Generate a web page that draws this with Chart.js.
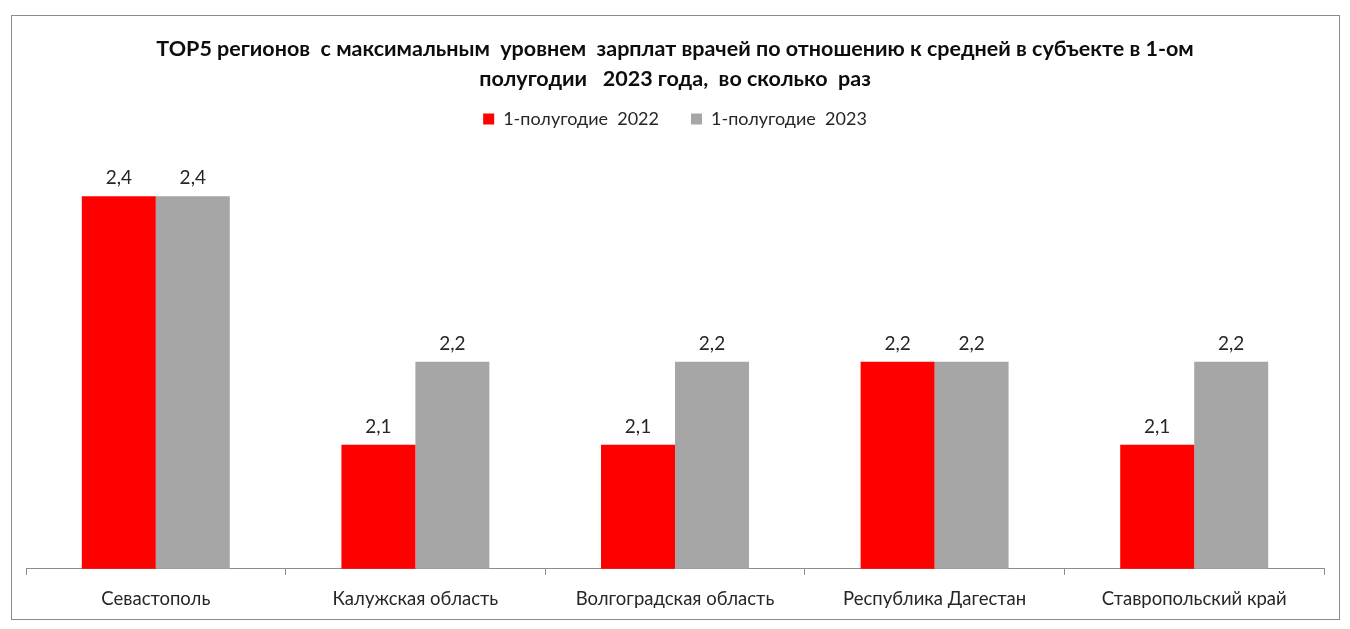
<!DOCTYPE html>
<html lang="ru">
<head>
    <meta charset="UTF-8">
    <title>TOP5 регионов</title>
    <script src="https://cdn.jsdelivr.net/npm/chart.js"></script>
    <style>
        body {
            margin: 0;
            background: #ffffff;
            font-family: 'Lato', sans-serif;
        }
        #frame {
            position: absolute;
            left: 11px;
            top: 15px;
            width: 1327px;
            height: 603px;
            border: 1px solid #8c8c8c;
            background: #ffffff;
        }
        canvas {
            display: block;
        }
    </style>
</head>
<body>
    <div id="frame">
        <canvas id="chart" width="1327" height="603"></canvas>
    </div>

    <script>
        const regions = ["Севастополь", "Калужская область", "Волгоградская область", "Республика Дагестан", "Ставропольский край"];
        const values2022 = [2.4, 2.1, 2.1, 2.2, 2.1];
        const values2023 = [2.4, 2.2, 2.2, 2.2, 2.2];
        const seriesNames = ["1-полугодие  2022", "1-полугодие  2023"];
        const titleLines = [
            "TOP5 регионов  с максимальным  уровнем  зарплат врачей по отношению к средней в субъекте в 1-ом",
            "полугодии   2023 года,  во сколько  раз"
        ];

        // value labels above the bars, with a decimal comma
        const barValues = {
            id: "barValues",
            afterDatasetsDraw(chart) {
                const ctx = chart.ctx;
                ctx.save();
                ctx.font = "19px Lato";
                ctx.fillStyle = "#262626";
                ctx.textAlign = "center";
                ctx.textBaseline = "middle";
                chart.data.datasets.forEach((ds, i) => {
                    chart.getDatasetMeta(i).data.forEach((bar, j) => {
                        const txt = ds.data[j].toFixed(1).replace(".", ",");
                        ctx.fillText(txt, bar.x, bar.y - 18);
                    });
                });
                ctx.restore();
            }
        };

        new Chart(document.getElementById("chart"), {
            type: "bar",
            data: {
                labels: regions,
                datasets: [
                    { label: seriesNames[0], data: values2022, backgroundColor: "#ff0000" },
                    { label: seriesNames[1], data: values2023, backgroundColor: "#a6a6a6" }
                ]
            },
            options: {
                responsive: false,
                animation: false,
                layout: { padding: { left: 14, right: 15, top: 0, bottom: -4 } },
                datasets: {
                    bar: { barPercentage: 1, categoryPercentage: 0.57 }
                },
                scales: {
                    x: {
                        grid: {
                            offset: true,
                            drawOnChartArea: false,
                            tickLength: 6,
                            color: "#8c8c8c"
                        },
                        border: { color: "#8c8c8c" },
                        ticks: {
                            padding: 13,
                            color: "#262626",
                            font: { family: "Lato", size: 18.5 }
                        }
                    },
                    y: {
                        display: false,
                        min: 1.95,
                        max: 2.4704
                    }
                },
                plugins: {
                    title: {
                        display: true,
                        text: titleLines,
                        color: "#0d0d0d",
                        font: { family: "Lato", size: 21.5, weight: "bold", lineHeight: "30px" },
                        padding: { top: 18, bottom: -16 }
                    },
                    legend: {
                        labels: {
                            boxWidth: 11,
                            boxHeight: 11,
                            padding: 32,
                            color: "#262626",
                            font: { family: "Lato", size: 18 }
                        }
                    },
                    tooltip: { enabled: false }
                }
            },
            plugins: [barValues]
        });
    </script>
</body>
</html>
